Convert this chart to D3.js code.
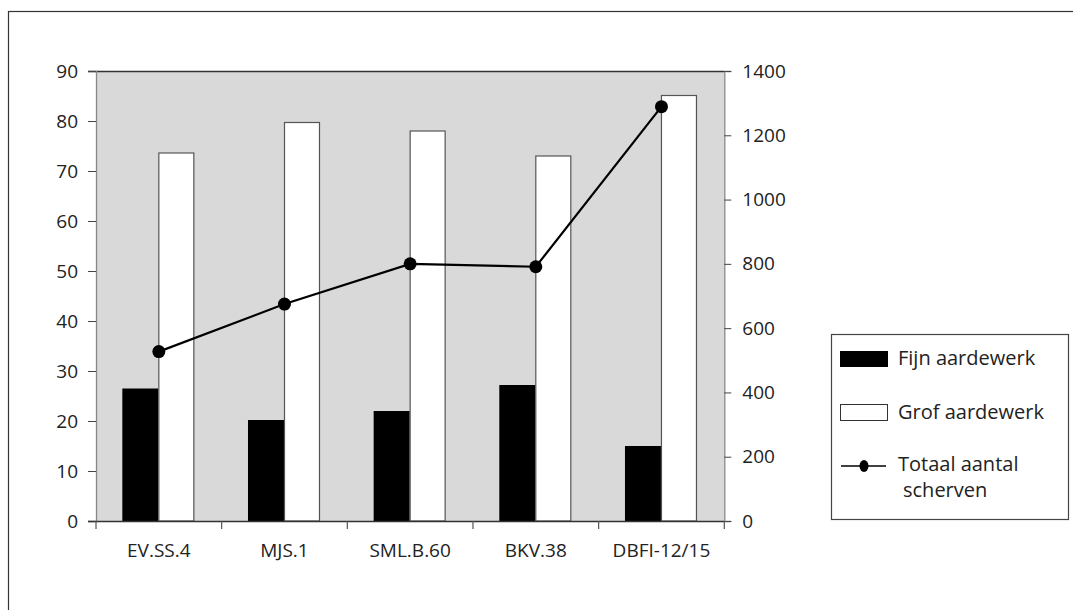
<!DOCTYPE html>
<html>
<head>
<meta charset="utf-8">
<script src="https://cdn.jsdelivr.net/npm/d3@7"></script>
<style>
  body { margin: 0; background: #fff; }
  svg text { font-family: "Open Sans", sans-serif; fill: #222; }
</style>
</head>
<body>
<svg id="chart" width="1073" height="610"></svg>
<script>
// categories and series
let categories = ["EV.SS.4", "MJS.1", "SML.B.60", "BKV.38", "DBFI-12/15"];
let fijn = [26.5, 20.2, 22.0, 27.2, 15.0];
let grof = [73.7, 79.8, 78.1, 73.1, 85.2];
let totaal = [527, 675, 800, 791, 1289];
let leftTicks = [0, 10, 20, 30, 40, 50, 60, 70, 80, 90];
let rightTicks = [0, 200, 400, 600, 800, 1000, 1200, 1400];
let seriesNames = ["Fijn aardewerk", "Grof aardewerk"];

let svg = d3.select("#chart");
let plotLeft = 96, plotRight = 724.3, plotTop = 71, plotBottom = 521;

// outer frame (runs off the right / bottom edge)
svg.append("rect")
    .attr("x", 8.5).attr("y", 11.5)
    .attr("width", 1100).attr("height", 700)
    .attr("fill", "none").attr("stroke", "#333").attr("stroke-width", 1.2);

let x0 = d3.scaleBand().domain(categories).range([plotLeft, plotRight]);
let bw = x0.bandwidth();
let x1 = d3.scaleBand().domain(seriesNames).range([bw / 2 - 36.5, bw / 2 + 35.5]);
let y = d3.scaleLinear().domain([0, 90]).range([plotBottom, plotTop]);
let y2 = d3.scaleLinear().domain([0, 1400]).range([plotBottom, plotTop]);

// plot background
svg.append("rect")
    .attr("x", plotLeft).attr("y", plotTop)
    .attr("width", plotRight - plotLeft).attr("height", plotBottom - plotTop)
    .attr("fill", "#d9d9d9");

let rows = categories.map(function(c, i) {
    return {cat: c, fijn: fijn[i], grof: grof[i], totaal: totaal[i]};
});

// black bars
svg.append("g").selectAll("rect").data(rows).enter()
    .append("rect")
    .attr("x", function(d) { return x0(d.cat) + x1(seriesNames[0]); })
    .attr("y", function(d) { return y(d.fijn); })
    .attr("width", x1.bandwidth())
    .attr("height", function(d) { return plotBottom - y(d.fijn); })
    .attr("fill", "#000");

// white bars
svg.append("g").selectAll("rect").data(rows).enter()
    .append("rect")
    .attr("x", function(d) { return x0(d.cat) + x1(seriesNames[1]) + 0.5; })
    .attr("y", function(d) { return y(d.grof) + 0.5; })
    .attr("width", x1.bandwidth() - 1)
    .attr("height", function(d) { return plotBottom - y(d.grof) - 0.5; })
    .attr("fill", "#fff")
    .attr("stroke", "#555").attr("stroke-width", 1.2);

// plot border: top line dark, sides gray
svg.append("line")
    .attr("x1", plotLeft - 8).attr("x2", plotRight)
    .attr("y1", plotTop + 0.5).attr("y2", plotTop + 0.5)
    .attr("stroke", "#333").attr("stroke-width", 1.3);

// left axis
let leftAxis = d3.axisLeft(y).tickValues(leftTicks).tickSize(8).tickPadding(10).tickFormat(d3.format("d"));
let gl = svg.append("g").attr("transform", "translate(" + plotLeft + ",0)").call(leftAxis);
gl.select(".domain").attr("stroke", "#888").attr("stroke-width", 1.3);
gl.selectAll(".tick line").attr("stroke", "#444");
gl.selectAll("text").style("font-size", "19px").attr("fill", "#222");

// right axis
let rightAxis = d3.axisRight(y2).tickValues(rightTicks).tickSize(7).tickPadding(11).tickFormat(d3.format("d"));
let gr = svg.append("g").attr("transform", "translate(" + plotRight + ",0)").call(rightAxis);
gr.select(".domain").attr("stroke", "#888").attr("stroke-width", 1.3);
gr.selectAll(".tick line").attr("stroke", "#444");
gr.selectAll("text").style("font-size", "19px").attr("fill", "#222");

// bottom axis line with ticks on category boundaries
svg.append("line")
    .attr("x1", plotLeft - 8).attr("x2", plotRight)
    .attr("y1", plotBottom + 0.5).attr("y2", plotBottom + 0.5)
    .attr("stroke", "#333").attr("stroke-width", 1.3);
let bounds = categories.map(function(c) { return x0(c); }).concat([x0(categories[categories.length - 1]) + bw]);
svg.append("g").selectAll("line").data(bounds).enter()
    .append("line")
    .attr("x1", function(d) { return d; }).attr("x2", function(d) { return d; })
    .attr("y1", plotBottom).attr("y2", plotBottom + 8)
    .attr("stroke", "#555").attr("stroke-width", 1.2);
svg.append("g").selectAll("text").data(categories).enter()
    .append("text")
    .attr("x", function(d) { return x0(d) + bw / 2; })
    .attr("y", 557)
    .attr("text-anchor", "middle")
    .style("font-size", "19px")
    .text(function(d) { return d; });

// total line on the right axis
let line = d3.line()
    .x(function(d) { return x0(d.cat) + bw / 2; })
    .y(function(d) { return y2(d.totaal); });
svg.append("path").datum(rows)
    .attr("d", line)
    .attr("fill", "none").attr("stroke", "#000").attr("stroke-width", 2.2);
svg.append("g").selectAll("circle").data(rows).enter()
    .append("circle")
    .attr("cx", function(d) { return x0(d.cat) + bw / 2; })
    .attr("cy", function(d) { return y2(d.totaal); })
    .attr("r", 6.5)
    .attr("fill", "#000");

// legend
let lg = svg.append("g");
lg.append("rect")
    .attr("x", 831.5).attr("y", 334.5).attr("width", 237).attr("height", 185)
    .attr("fill", "#fff").attr("stroke", "#444").attr("stroke-width", 1.2);
lg.append("rect")
    .attr("x", 840).attr("y", 351).attr("width", 48).attr("height", 16)
    .attr("fill", "#000");
lg.append("text").attr("x", 898).attr("y", 365).style("font-size", "20px").text(seriesNames[0]);
lg.append("rect")
    .attr("x", 840.5).attr("y", 404.5).attr("width", 47).attr("height", 16)
    .attr("fill", "#fff").attr("stroke", "#333");
lg.append("text").attr("x", 898).attr("y", 419).style("font-size", "20px").text(seriesNames[1]);
lg.append("line")
    .attr("x1", 841).attr("x2", 886).attr("y1", 466).attr("y2", 466)
    .attr("stroke", "#000").attr("stroke-width", 1.5);
lg.append("ellipse")
    .attr("cx", 864).attr("cy", 466).attr("rx", 4.5).attr("ry", 6)
    .attr("fill", "#000");
lg.append("text").attr("x", 898).attr("y", 471).style("font-size", "20px").text("Totaal aantal");
lg.append("text").attr("x", 903).attr("y", 497).style("font-size", "20px").text("scherven");
</script>
</body>
</html>
